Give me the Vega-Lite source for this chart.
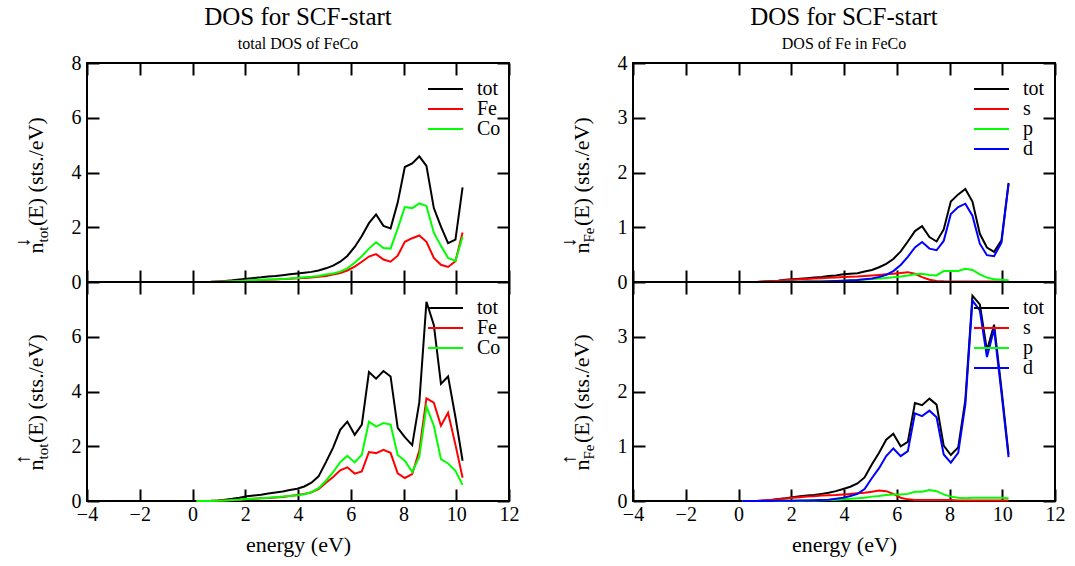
{
  "$schema": "https://vega.github.io/schema/vega-lite/v6.json",
  "padding": {"left": 11, "top": 4, "right": 5, "bottom": 5},
  "background": "white",
  "config": {
    "font": "Liberation Serif",
    "view": {"stroke": "#000000", "strokeWidth": 2},
    "style": {"guide-label": {"font": "Liberation Serif"}, "guide-title": {"font": "Liberation Serif"}, "group-title": {"font": "Liberation Serif"}, "group-subtitle": {"font": "Liberation Serif"}},
    "axis": {"domain": false, "grid": false, "tickColor": "#000000", "tickWidth": 2, "tickSize": -12,
      "labelFont": "Liberation Serif", "labelFontSize": 20, "labelColor": "#000000",
      "titleFont": "Liberation Serif", "titleFontSize": 22, "titleFontWeight": "normal", "titleColor": "#000000",
      "labelFlush": false, "labelOverlap": false, "labelBound": false},
    "legend": {"orient": "none", "legendX": 348.5, "legendY": 16, "symbolType": "M-1.944,0H1.944", "symbolSize": 324, "symbolStrokeWidth": 2,
      "labelFont": "Liberation Serif", "labelFontSize": 20, "labelColor": "#000000", "rowPadding": -1.5, "labelOffset": 21.5, "padding": 0},
    "title": {"font": "Liberation Serif", "fontWeight": "normal", "fontSize": 25, "subtitleFont": "Liberation Serif", "subtitleFontSize": 16, "color": "#000000", "subtitleColor": "#000000", "anchor": "middle", "frame": "group", "offset": 1, "subtitlePadding": 6}
  },
  "datasets": {
    "tl": [
      {"e":0.15,"tot":0,"Fe":0,"Co":0},{"e":0.42,"tot":0,"Fe":0,"Co":0},{"e":0.69,"tot":0.005,"Fe":0.002,"Co":0.002},
      {"e":0.97,"tot":0.02,"Fe":0.008,"Co":0.01},{"e":1.24,"tot":0.04,"Fe":0.016,"Co":0.02},{"e":1.51,"tot":0.06,"Fe":0.025,"Co":0.03},
      {"e":1.78,"tot":0.09,"Fe":0.04,"Co":0.04},{"e":2.06,"tot":0.12,"Fe":0.05,"Co":0.055},{"e":2.33,"tot":0.15,"Fe":0.06,"Co":0.07},
      {"e":2.60,"tot":0.17,"Fe":0.07,"Co":0.08},{"e":2.87,"tot":0.20,"Fe":0.08,"Co":0.09},{"e":3.15,"tot":0.22,"Fe":0.09,"Co":0.10},
      {"e":3.42,"tot":0.25,"Fe":0.11,"Co":0.11},{"e":3.69,"tot":0.28,"Fe":0.12,"Co":0.13},{"e":3.97,"tot":0.31,"Fe":0.14,"Co":0.15},
      {"e":4.24,"tot":0.34,"Fe":0.15,"Co":0.17},{"e":4.51,"tot":0.37,"Fe":0.16,"Co":0.19},{"e":4.78,"tot":0.42,"Fe":0.19,"Co":0.22},
      {"e":5.06,"tot":0.50,"Fe":0.22,"Co":0.27},{"e":5.33,"tot":0.60,"Fe":0.27,"Co":0.31},{"e":5.60,"tot":0.74,"Fe":0.33,"Co":0.38},
      {"e":5.87,"tot":0.95,"Fe":0.42,"Co":0.50},{"e":6.15,"tot":1.28,"Fe":0.56,"Co":0.70},{"e":6.42,"tot":1.68,"Fe":0.74,"Co":0.94},
      {"e":6.69,"tot":2.15,"Fe":0.93,"Co":1.22},{"e":6.96,"tot":2.47,"Fe":1.02,"Co":1.45},{"e":7.24,"tot":2.05,"Fe":0.82,"Co":1.24},
      {"e":7.51,"tot":1.96,"Fe":0.74,"Co":1.22},{"e":7.78,"tot":2.90,"Fe":0.96,"Co":1.95},{"e":8.05,"tot":4.20,"Fe":1.47,"Co":2.74},
      {"e":8.33,"tot":4.33,"Fe":1.60,"Co":2.70},{"e":8.60,"tot":4.59,"Fe":1.70,"Co":2.87},{"e":8.87,"tot":4.24,"Fe":1.47,"Co":2.78},
      {"e":9.15,"tot":2.70,"Fe":0.88,"Co":1.80},{"e":9.42,"tot":2.02,"Fe":0.63,"Co":1.32},{"e":9.69,"tot":1.42,"Fe":0.55,"Co":0.88},
      {"e":9.97,"tot":1.55,"Fe":0.76,"Co":0.77},{"e":10.24,"tot":3.46,"Fe":1.81,"Co":1.65}
    ],
    "bl": [
      {"e":0.15,"tot":0,"Fe":0,"Co":0},{"e":0.42,"tot":0,"Fe":0,"Co":0},{"e":0.69,"tot":0.005,"Fe":0.002,"Co":0.002},
      {"e":0.97,"tot":0.02,"Fe":0.01,"Co":0.01},{"e":1.24,"tot":0.05,"Fe":0.02,"Co":0.02},{"e":1.51,"tot":0.08,"Fe":0.035,"Co":0.035},
      {"e":1.78,"tot":0.12,"Fe":0.05,"Co":0.05},{"e":2.06,"tot":0.17,"Fe":0.07,"Co":0.07},{"e":2.33,"tot":0.20,"Fe":0.085,"Co":0.085},
      {"e":2.60,"tot":0.23,"Fe":0.10,"Co":0.10},{"e":2.87,"tot":0.27,"Fe":0.11,"Co":0.12},{"e":3.15,"tot":0.31,"Fe":0.13,"Co":0.14},
      {"e":3.42,"tot":0.35,"Fe":0.15,"Co":0.16},{"e":3.69,"tot":0.40,"Fe":0.18,"Co":0.18},{"e":3.97,"tot":0.45,"Fe":0.22,"Co":0.21},
      {"e":4.24,"tot":0.53,"Fe":0.26,"Co":0.25},{"e":4.51,"tot":0.67,"Fe":0.32,"Co":0.32},{"e":4.78,"tot":0.90,"Fe":0.43,"Co":0.47},
      {"e":5.06,"tot":1.42,"Fe":0.67,"Co":0.74},{"e":5.33,"tot":1.95,"Fe":0.88,"Co":1.05},{"e":5.60,"tot":2.60,"Fe":1.12,"Co":1.42},
      {"e":5.87,"tot":2.90,"Fe":1.23,"Co":1.65},{"e":6.15,"tot":2.42,"Fe":1.00,"Co":1.41},{"e":6.42,"tot":2.79,"Fe":1.08,"Co":1.69},
      {"e":6.69,"tot":4.71,"Fe":1.79,"Co":2.90},{"e":6.96,"tot":4.47,"Fe":1.75,"Co":2.72},{"e":7.24,"tot":4.75,"Fe":1.87,"Co":2.85},
      {"e":7.51,"tot":4.55,"Fe":1.76,"Co":2.79},{"e":7.78,"tot":2.67,"Fe":1.01,"Co":1.68},{"e":8.05,"tot":2.33,"Fe":0.84,"Co":1.47},
      {"e":8.33,"tot":2.04,"Fe":0.98,"Co":1.06},{"e":8.60,"tot":3.61,"Fe":1.84,"Co":1.62},{"e":8.87,"tot":7.28,"Fe":3.75,"Co":3.45},
      {"e":9.15,"tot":6.43,"Fe":3.59,"Co":2.75},{"e":9.42,"tot":4.28,"Fe":2.75,"Co":1.53},{"e":9.69,"tot":4.55,"Fe":3.22,"Co":1.37},
      {"e":9.97,"tot":3.06,"Fe":2.05,"Co":1.10},{"e":10.24,"tot":1.47,"Fe":0.85,"Co":0.59}
    ],
    "tr": [
      {"e":0.15,"tot":0,"s":0,"p":0,"d":0},{"e":0.42,"tot":0,"s":0,"p":0,"d":0},{"e":0.69,"tot":0.002,"s":0.002,"p":0,"d":0},
      {"e":0.97,"tot":0.008,"s":0.007,"p":0.001,"d":0.001},{"e":1.24,"tot":0.016,"s":0.014,"p":0.001,"d":0.001},{"e":1.51,"tot":0.025,"s":0.021,"p":0.002,"d":0.002},
      {"e":1.78,"tot":0.04,"s":0.034,"p":0.003,"d":0.003},{"e":2.06,"tot":0.05,"s":0.042,"p":0.004,"d":0.004},{"e":2.33,"tot":0.06,"s":0.05,"p":0.005,"d":0.005},
      {"e":2.60,"tot":0.07,"s":0.056,"p":0.007,"d":0.007},{"e":2.87,"tot":0.08,"s":0.062,"p":0.009,"d":0.009},{"e":3.15,"tot":0.09,"s":0.068,"p":0.011,"d":0.011},
      {"e":3.42,"tot":0.11,"s":0.076,"p":0.014,"d":0.015},{"e":3.69,"tot":0.12,"s":0.082,"p":0.018,"d":0.019},{"e":3.97,"tot":0.14,"s":0.09,"p":0.022,"d":0.024},
      {"e":4.24,"tot":0.15,"s":0.095,"p":0.028,"d":0.03},{"e":4.51,"tot":0.16,"s":0.10,"p":0.035,"d":0.038},{"e":4.78,"tot":0.19,"s":0.11,"p":0.045,"d":0.05},
      {"e":5.06,"tot":0.22,"s":0.12,"p":0.055,"d":0.065},{"e":5.33,"tot":0.27,"s":0.13,"p":0.065,"d":0.09},{"e":5.60,"tot":0.33,"s":0.14,"p":0.075,"d":0.13},
      {"e":5.87,"tot":0.42,"s":0.15,"p":0.085,"d":0.20},{"e":6.15,"tot":0.56,"s":0.165,"p":0.10,"d":0.31},{"e":6.42,"tot":0.74,"s":0.18,"p":0.12,"d":0.46},
      {"e":6.69,"tot":0.93,"s":0.15,"p":0.14,"d":0.63},{"e":6.96,"tot":1.02,"s":0.09,"p":0.15,"d":0.73},{"e":7.24,"tot":0.82,"s":0.04,"p":0.13,"d":0.61},
      {"e":7.51,"tot":0.74,"s":0.02,"p":0.12,"d":0.58},{"e":7.78,"tot":0.96,"s":0.012,"p":0.20,"d":0.75},{"e":8.05,"tot":1.47,"s":0.01,"p":0.20,"d":1.24},
      {"e":8.33,"tot":1.60,"s":0.01,"p":0.20,"d":1.37},{"e":8.60,"tot":1.70,"s":0.01,"p":0.24,"d":1.43},{"e":8.87,"tot":1.47,"s":0.01,"p":0.22,"d":1.21},
      {"e":9.15,"tot":0.88,"s":0.01,"p":0.14,"d":0.70},{"e":9.42,"tot":0.63,"s":0.01,"p":0.08,"d":0.49},{"e":9.69,"tot":0.55,"s":0.01,"p":0.05,"d":0.47},
      {"e":9.97,"tot":0.76,"s":0.01,"p":0.04,"d":0.72},{"e":10.24,"tot":1.81,"s":0.01,"p":0.03,"d":1.79}
    ],
    "br": [
      {"e":0.15,"tot":0,"s":0,"p":0,"d":0},{"e":0.42,"tot":0,"s":0,"p":0,"d":0},{"e":0.69,"tot":0.002,"s":0.002,"p":0,"d":0},
      {"e":0.97,"tot":0.01,"s":0.009,"p":0.001,"d":0.001},{"e":1.24,"tot":0.02,"s":0.018,"p":0.001,"d":0.001},{"e":1.51,"tot":0.035,"s":0.03,"p":0.002,"d":0.003},
      {"e":1.78,"tot":0.05,"s":0.044,"p":0.003,"d":0.004},{"e":2.06,"tot":0.07,"s":0.06,"p":0.004,"d":0.006},{"e":2.33,"tot":0.085,"s":0.07,"p":0.006,"d":0.008},
      {"e":2.60,"tot":0.10,"s":0.08,"p":0.008,"d":0.011},{"e":2.87,"tot":0.11,"s":0.088,"p":0.01,"d":0.013},{"e":3.15,"tot":0.13,"s":0.10,"p":0.012,"d":0.016},
      {"e":3.42,"tot":0.15,"s":0.105,"p":0.016,"d":0.022},{"e":3.69,"tot":0.18,"s":0.11,"p":0.022,"d":0.04},{"e":3.97,"tot":0.22,"s":0.12,"p":0.03,"d":0.06},
      {"e":4.24,"tot":0.26,"s":0.13,"p":0.04,"d":0.09},{"e":4.51,"tot":0.32,"s":0.14,"p":0.05,"d":0.13},{"e":4.78,"tot":0.43,"s":0.15,"p":0.06,"d":0.22},
      {"e":5.06,"tot":0.67,"s":0.17,"p":0.08,"d":0.42},{"e":5.33,"tot":0.88,"s":0.19,"p":0.09,"d":0.60},{"e":5.60,"tot":1.12,"s":0.18,"p":0.11,"d":0.82},
      {"e":5.87,"tot":1.23,"s":0.13,"p":0.12,"d":0.96},{"e":6.15,"tot":1.00,"s":0.06,"p":0.12,"d":0.82},{"e":6.42,"tot":1.08,"s":0.03,"p":0.13,"d":0.91},
      {"e":6.69,"tot":1.79,"s":0.02,"p":0.17,"d":1.60},{"e":6.96,"tot":1.75,"s":0.02,"p":0.17,"d":1.55},{"e":7.24,"tot":1.87,"s":0.02,"p":0.20,"d":1.65},
      {"e":7.51,"tot":1.76,"s":0.02,"p":0.18,"d":1.53},{"e":7.78,"tot":1.01,"s":0.02,"p":0.12,"d":0.85},{"e":8.05,"tot":0.84,"s":0.02,"p":0.08,"d":0.70},
      {"e":8.33,"tot":0.98,"s":0.01,"p":0.06,"d":0.88},{"e":8.60,"tot":1.84,"s":0.01,"p":0.05,"d":1.76},{"e":8.87,"tot":3.75,"s":0.01,"p":0.06,"d":3.66},
      {"e":9.15,"tot":3.59,"s":0.01,"p":0.06,"d":3.48},{"e":9.42,"tot":2.75,"s":0.01,"p":0.06,"d":2.63},{"e":9.69,"tot":3.22,"s":0.01,"p":0.06,"d":3.14},
      {"e":9.97,"tot":2.05,"s":0.01,"p":0.06,"d":1.98},{"e":10.24,"tot":0.85,"s":0.01,"p":0.05,"d":0.80}
    ]
  },
  "hconcat": [
    {
      "bounds": "flush",
      "vconcat": [
        {
          "width": 422, "height": 219,
          "title": {"text": "DOS for SCF-start", "subtitle": "total DOS of FeCo"},
          "data": {"name": "tl"},
          "transform": [{"fold": ["tot", "Fe", "Co"], "as": ["series", "value"]}],
          "layer": [
            {"mark": {"type": "line", "strokeWidth": 2},
             "encoding": {
               "x": {"field": "e", "type": "quantitative", "scale": {"domain": [-4, 12], "nice": false}, "axis": {"orient": "bottom", "values": [-4,-2,0,2,4,6,8,10,12], "labels": false, "title": null}},
               "y": {"field": "value", "type": "quantitative", "scale": {"domain": [0, 8], "nice": false}, "axis": {"orient": "left", "values": [0,2,4,6,8], "labelPadding": 18, "labelFont": "Liberation Serif",
                 "title": "n\u00a0\u00a0\u00a0(E) (sts./eV)", "titleFont": "Liberation Serif", "titleAngle": -90, "titleAlign": "left", "titleBaseline": "alphabetic", "titleX": -45, "titleY": 190}},
               "color": {"field": "series", "type": "nominal", "sort": ["tot", "Fe", "Co"], "scale": {"domain": ["tot", "Fe", "Co"], "range": ["#000000", "#ff0000", "#00ff00"]}, "legend": {"title": null, "labelFont": "Liberation Serif"}}
             }},
            {"mark": {"type": "point", "opacity": 0},
             "encoding": {
               "x": {"field": "e", "type": "quantitative", "axis": {"orient": "top", "values": [-4,-2,0,2,4,6,8,10,12], "labels": false,
                 "title": "↓", "titleFont": "Liberation Serif", "titleFontSize": 20, "titleAngle": -90, "titleAlign": "left", "titleBaseline": "alphabetic", "titleX": -59, "titleY": 184}},
               "y": {"field": "value", "type": "quantitative", "axis": {"orient": "right", "values": [0,2,4,6,8], "labels": false,
                 "title": "tot", "titleFont": "Liberation Serif", "titleFontSize": 15, "titleAngle": -90, "titleAlign": "left", "titleBaseline": "alphabetic", "titleX": -462, "titleY": 179}}
             }}
          ],
          "resolve": {"axis": {"x": "independent", "y": "independent"}}
        },
        {
          "width": 422, "height": 219,
          "data": {"name": "bl"},
          "transform": [{"fold": ["tot", "Fe", "Co"], "as": ["series", "value"]}],
          "layer": [
            {"mark": {"type": "line", "strokeWidth": 2},
             "encoding": {
               "x": {"field": "e", "type": "quantitative", "scale": {"domain": [-4, 12], "nice": false}, "axis": {"orient": "bottom", "values": [-4,-2,0,2,4,6,8,10,12], "labelPadding": 15, "labelFont": "Liberation Serif", "title": "energy (eV)", "titleFont": "Liberation Serif", "titlePadding": 10}},
               "y": {"field": "value", "type": "quantitative", "scale": {"domain": [0, 8], "nice": false}, "axis": {"orient": "left", "values": [0,2,4,6], "labelPadding": 18, "labelFont": "Liberation Serif",
                 "title": "n\u00a0\u00a0\u00a0(E) (sts./eV)", "titleFont": "Liberation Serif", "titleAngle": -90, "titleAlign": "left", "titleBaseline": "alphabetic", "titleX": -45, "titleY": 188}},
               "color": {"field": "series", "type": "nominal", "sort": ["tot", "Fe", "Co"], "scale": {"domain": ["tot", "Fe", "Co"], "range": ["#000000", "#ff0000", "#00ff00"]}, "legend": {"title": null, "labelFont": "Liberation Serif"}}
             }},
            {"mark": {"type": "point", "opacity": 0},
             "encoding": {
               "x": {"field": "e", "type": "quantitative", "axis": {"orient": "top", "values": [-4,-2,0,2,4,6,8,10,12], "labels": false,
                 "title": "↑", "titleFont": "Liberation Serif", "titleFontSize": 20, "titleAngle": -90, "titleAlign": "left", "titleBaseline": "alphabetic", "titleX": -59, "titleY": 182}},
               "y": {"field": "value", "type": "quantitative", "axis": {"orient": "right", "values": [0,2,4,6], "labels": false,
                 "title": "tot", "titleFont": "Liberation Serif", "titleFontSize": 15, "titleAngle": -90, "titleAlign": "left", "titleBaseline": "alphabetic", "titleX": -462, "titleY": 177}}
             }}
          ],
          "resolve": {"axis": {"x": "independent", "y": "independent"}}
        }
      ],
      "spacing": 0,
      "resolve": {"scale": {"color": "independent"}, "legend": {"color": "independent"}}
    },
    {
      "bounds": "flush",
      "vconcat": [
        {
          "width": 422, "height": 219,
          "title": {"text": "DOS for SCF-start", "subtitle": "DOS of Fe in FeCo"},
          "data": {"name": "tr"},
          "transform": [{"fold": ["tot", "s", "p", "d"], "as": ["series", "value"]}],
          "layer": [
            {"mark": {"type": "line", "strokeWidth": 2},
             "encoding": {
               "x": {"field": "e", "type": "quantitative", "scale": {"domain": [-4, 12], "nice": false}, "axis": {"orient": "bottom", "values": [-4,-2,0,2,4,6,8,10,12], "labels": false, "title": null}},
               "y": {"field": "value", "type": "quantitative", "scale": {"domain": [0, 4], "nice": false}, "axis": {"orient": "left", "values": [0,1,2,3,4], "labelPadding": 18, "labelFont": "Liberation Serif",
                 "title": "n\u00a0\u00a0\u00a0(E) (sts./eV)", "titleFont": "Liberation Serif", "titleAngle": -90, "titleAlign": "left", "titleBaseline": "alphabetic", "titleX": -45, "titleY": 190}},
               "color": {"field": "series", "type": "nominal", "sort": ["tot", "s", "p", "d"], "scale": {"domain": ["tot", "s", "p", "d"], "range": ["#000000", "#ff0000", "#00ff00", "#0000ff"]}, "legend": {"title": null, "labelFont": "Liberation Serif"}}
             }},
            {"mark": {"type": "point", "opacity": 0},
             "encoding": {
               "x": {"field": "e", "type": "quantitative", "axis": {"orient": "top", "values": [-4,-2,0,2,4,6,8,10,12], "labels": false,
                 "title": "↓", "titleFont": "Liberation Serif", "titleFontSize": 20, "titleAngle": -90, "titleAlign": "left", "titleBaseline": "alphabetic", "titleX": -59, "titleY": 184}},
               "y": {"field": "value", "type": "quantitative", "axis": {"orient": "right", "values": [0,1,2,3,4], "labels": false,
                 "title": "Fe", "titleFont": "Liberation Serif", "titleFontSize": 15, "titleAngle": -90, "titleAlign": "left", "titleBaseline": "alphabetic", "titleX": -462, "titleY": 179}}
             }}
          ],
          "resolve": {"axis": {"x": "independent", "y": "independent"}}
        },
        {
          "width": 422, "height": 219,
          "data": {"name": "br"},
          "transform": [{"fold": ["tot", "s", "p", "d"], "as": ["series", "value"]}],
          "layer": [
            {"mark": {"type": "line", "strokeWidth": 2},
             "encoding": {
               "x": {"field": "e", "type": "quantitative", "scale": {"domain": [-4, 12], "nice": false}, "axis": {"orient": "bottom", "values": [-4,-2,0,2,4,6,8,10,12], "labelPadding": 15, "labelFont": "Liberation Serif", "title": "energy (eV)", "titleFont": "Liberation Serif", "titlePadding": 10}},
               "y": {"field": "value", "type": "quantitative", "scale": {"domain": [0, 4], "nice": false}, "axis": {"orient": "left", "values": [0,1,2,3], "labelPadding": 18, "labelFont": "Liberation Serif",
                 "title": "n\u00a0\u00a0\u00a0(E) (sts./eV)", "titleFont": "Liberation Serif", "titleAngle": -90, "titleAlign": "left", "titleBaseline": "alphabetic", "titleX": -45, "titleY": 188}},
               "color": {"field": "series", "type": "nominal", "sort": ["tot", "s", "p", "d"], "scale": {"domain": ["tot", "s", "p", "d"], "range": ["#000000", "#ff0000", "#00ff00", "#0000ff"]}, "legend": {"title": null, "labelFont": "Liberation Serif"}}
             }},
            {"mark": {"type": "point", "opacity": 0},
             "encoding": {
               "x": {"field": "e", "type": "quantitative", "axis": {"orient": "top", "values": [-4,-2,0,2,4,6,8,10,12], "labels": false,
                 "title": "↑", "titleFont": "Liberation Serif", "titleFontSize": 20, "titleAngle": -90, "titleAlign": "left", "titleBaseline": "alphabetic", "titleX": -59, "titleY": 182}},
               "y": {"field": "value", "type": "quantitative", "axis": {"orient": "right", "values": [0,1,2,3], "labels": false,
                 "title": "Fe", "titleFont": "Liberation Serif", "titleFontSize": 15, "titleAngle": -90, "titleAlign": "left", "titleBaseline": "alphabetic", "titleX": -462, "titleY": 177}}
             }}
          ],
          "resolve": {"axis": {"x": "independent", "y": "independent"}}
        }
      ],
      "spacing": 0,
      "resolve": {"scale": {"color": "independent"}, "legend": {"color": "independent"}}
    }
  ],
  "spacing": 37,
  "resolve": {"scale": {"color": "independent"}, "legend": {"color": "independent"}}
}
